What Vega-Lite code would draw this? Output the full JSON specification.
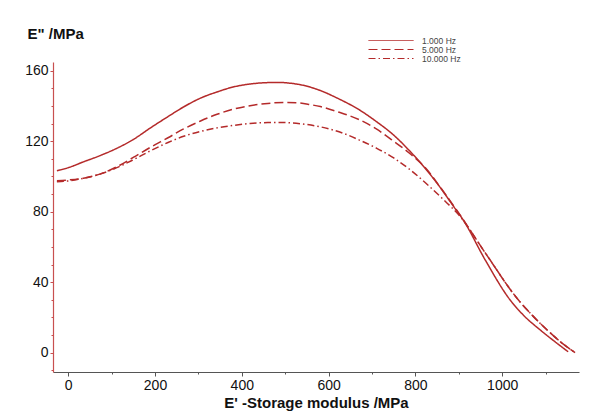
{
  "$schema": "https://vega.github.io/schema/vega-lite/v6.json",
  "autosize": "none",
  "width": 526,
  "height": 310,
  "padding": {"left": 53, "top": 62, "right": 11, "bottom": 42},
  "background": "white",
  "config": {
    "font": "Liberation Sans",
    "view": {"stroke": null}
  },
  "data": {
    "values": [
      {"series": "1.000 Hz", "E1": -26, "E2": 103.3},
      {"series": "1.000 Hz", "E1": 0, "E2": 105},
      {"series": "1.000 Hz", "E1": 35, "E2": 108.3},
      {"series": "1.000 Hz", "E1": 75, "E2": 112},
      {"series": "1.000 Hz", "E1": 112, "E2": 116},
      {"series": "1.000 Hz", "E1": 150, "E2": 121},
      {"series": "1.000 Hz", "E1": 189, "E2": 127.5},
      {"series": "1.000 Hz", "E1": 230, "E2": 134},
      {"series": "1.000 Hz", "E1": 266, "E2": 139.5},
      {"series": "1.000 Hz", "E1": 305, "E2": 144.5},
      {"series": "1.000 Hz", "E1": 343, "E2": 148},
      {"series": "1.000 Hz", "E1": 380, "E2": 150.8},
      {"series": "1.000 Hz", "E1": 419, "E2": 152.5},
      {"series": "1.000 Hz", "E1": 460, "E2": 153.3},
      {"series": "1.000 Hz", "E1": 485, "E2": 153.4},
      {"series": "1.000 Hz", "E1": 510, "E2": 153},
      {"series": "1.000 Hz", "E1": 541, "E2": 151.8},
      {"series": "1.000 Hz", "E1": 581, "E2": 148.8},
      {"series": "1.000 Hz", "E1": 620, "E2": 144.5},
      {"series": "1.000 Hz", "E1": 673, "E2": 137.5},
      {"series": "1.000 Hz", "E1": 710, "E2": 131.2},
      {"series": "1.000 Hz", "E1": 750, "E2": 123.5},
      {"series": "1.000 Hz", "E1": 785, "E2": 115},
      {"series": "1.000 Hz", "E1": 819, "E2": 105.7},
      {"series": "1.000 Hz", "E1": 855, "E2": 94.5},
      {"series": "1.000 Hz", "E1": 888, "E2": 83},
      {"series": "1.000 Hz", "E1": 911, "E2": 75},
      {"series": "1.000 Hz", "E1": 960, "E2": 53},
      {"series": "1.000 Hz", "E1": 1018, "E2": 30},
      {"series": "1.000 Hz", "E1": 1050, "E2": 21},
      {"series": "1.000 Hz", "E1": 1087, "E2": 13},
      {"series": "1.000 Hz", "E1": 1120, "E2": 6.5},
      {"series": "1.000 Hz", "E1": 1152, "E2": 0.5},
      {"series": "5.000 Hz", "E1": -26, "E2": 97.6},
      {"series": "5.000 Hz", "E1": 0, "E2": 98},
      {"series": "5.000 Hz", "E1": 35, "E2": 99},
      {"series": "5.000 Hz", "E1": 75, "E2": 101.5},
      {"series": "5.000 Hz", "E1": 112, "E2": 105.5},
      {"series": "5.000 Hz", "E1": 150, "E2": 110.8},
      {"series": "5.000 Hz", "E1": 189, "E2": 116.5},
      {"series": "5.000 Hz", "E1": 230, "E2": 122},
      {"series": "5.000 Hz", "E1": 266, "E2": 127},
      {"series": "5.000 Hz", "E1": 305, "E2": 131.5},
      {"series": "5.000 Hz", "E1": 343, "E2": 135.3},
      {"series": "5.000 Hz", "E1": 380, "E2": 138.2},
      {"series": "5.000 Hz", "E1": 419, "E2": 140.2},
      {"series": "5.000 Hz", "E1": 460, "E2": 141.5},
      {"series": "5.000 Hz", "E1": 496, "E2": 142},
      {"series": "5.000 Hz", "E1": 530, "E2": 141.8},
      {"series": "5.000 Hz", "E1": 558, "E2": 140.8},
      {"series": "5.000 Hz", "E1": 581, "E2": 139.7},
      {"series": "5.000 Hz", "E1": 620, "E2": 136.8},
      {"series": "5.000 Hz", "E1": 673, "E2": 132},
      {"series": "5.000 Hz", "E1": 710, "E2": 127},
      {"series": "5.000 Hz", "E1": 750, "E2": 120},
      {"series": "5.000 Hz", "E1": 790, "E2": 112.5},
      {"series": "5.000 Hz", "E1": 827, "E2": 103.8},
      {"series": "5.000 Hz", "E1": 860, "E2": 93},
      {"series": "5.000 Hz", "E1": 895, "E2": 81},
      {"series": "5.000 Hz", "E1": 960, "E2": 57},
      {"series": "5.000 Hz", "E1": 1037, "E2": 30},
      {"series": "5.000 Hz", "E1": 1070, "E2": 21},
      {"series": "5.000 Hz", "E1": 1103, "E2": 13},
      {"series": "5.000 Hz", "E1": 1135, "E2": 6},
      {"series": "5.000 Hz", "E1": 1168, "E2": 0},
      {"series": "10.000 Hz", "E1": -26, "E2": 97},
      {"series": "10.000 Hz", "E1": 0, "E2": 97.5},
      {"series": "10.000 Hz", "E1": 35, "E2": 99},
      {"series": "10.000 Hz", "E1": 75, "E2": 101.5},
      {"series": "10.000 Hz", "E1": 112, "E2": 105},
      {"series": "10.000 Hz", "E1": 150, "E2": 109.5},
      {"series": "10.000 Hz", "E1": 189, "E2": 114.5},
      {"series": "10.000 Hz", "E1": 230, "E2": 119.3},
      {"series": "10.000 Hz", "E1": 266, "E2": 122.8},
      {"series": "10.000 Hz", "E1": 305, "E2": 125.6},
      {"series": "10.000 Hz", "E1": 343, "E2": 127.6},
      {"series": "10.000 Hz", "E1": 380, "E2": 129},
      {"series": "10.000 Hz", "E1": 419, "E2": 130.1},
      {"series": "10.000 Hz", "E1": 460, "E2": 130.6},
      {"series": "10.000 Hz", "E1": 496, "E2": 130.6},
      {"series": "10.000 Hz", "E1": 540, "E2": 129.8},
      {"series": "10.000 Hz", "E1": 581, "E2": 128.2},
      {"series": "10.000 Hz", "E1": 634, "E2": 124.5},
      {"series": "10.000 Hz", "E1": 670, "E2": 120.8},
      {"series": "10.000 Hz", "E1": 711, "E2": 116},
      {"series": "10.000 Hz", "E1": 750, "E2": 110.5},
      {"series": "10.000 Hz", "E1": 788, "E2": 103.8},
      {"series": "10.000 Hz", "E1": 825, "E2": 96},
      {"series": "10.000 Hz", "E1": 865, "E2": 86.8},
      {"series": "10.000 Hz", "E1": 903, "E2": 77.3},
      {"series": "10.000 Hz", "E1": 960, "E2": 57},
      {"series": "10.000 Hz", "E1": 1037, "E2": 30},
      {"series": "10.000 Hz", "E1": 1070, "E2": 21},
      {"series": "10.000 Hz", "E1": 1103, "E2": 13},
      {"series": "10.000 Hz", "E1": 1135, "E2": 6},
      {"series": "10.000 Hz", "E1": 1168, "E2": 0}
    ]
  },
  "mark": {"type": "line", "color": "#b42a2a", "strokeWidth": 1.5, "interpolate": "monotone"},
  "encoding": {
    "x": {
      "field": "E1", "type": "quantitative",
      "scale": {"domain": [-35, 1177], "nice": false, "zero": false},
      "axis": {
        "title": "E' -Storage modulus /MPa",
        "titleFontSize": 15, "titleFontWeight": "bold", "titleColor": "#111",
        "titlePadding": 3,
        "format": "d",
        "values": [0, 100, 200, 300, 400, 500, 600, 700, 800, 900, 1000, 1100],
        "labelExpr": "datum.value % 200 == 0 ? datum.label : ''",
        "labelFontSize": 14, "labelColor": "#111", "labelPadding": 2,
        "domainColor": "#555", "domainWidth": 1.2,
        "tickColor": "#555",
        "tickSize": {"condition": {"test": "datum.value % 200 == 0", "value": 4}, "value": 2},
        "grid": false, "labelFlush": false, "labelOverlap": false
      }
    },
    "y": {
      "field": "E2", "type": "quantitative",
      "scale": {"domain": [-11, 165], "nice": false, "zero": false},
      "axis": {
        "title": "E\" /MPa",
        "titleAngle": 0, "titleX": -26, "titleY": -24,
        "titleAlign": "left", "titleBaseline": "alphabetic",
        "titleFontSize": 15, "titleFontWeight": "bold", "titleColor": "#111",
        "values": [-10, 0, 10, 20, 30, 40, 50, 60, 70, 80, 90, 100, 110, 120, 130, 140, 150, 160],
        "labelExpr": "datum.value % 40 == 0 ? datum.label : ''",
        "labelFontSize": 14, "labelColor": "#111", "labelPadding": 2,
        "domainColor": "#c85050", "domainWidth": 1.2,
        "tickColor": "#c85050",
        "tickSize": {"condition": {"test": "datum.value % 40 == 0", "value": 3}, "value": 2},
        "grid": false, "labelOverlap": false
      }
    },
    "strokeDash": {
      "field": "series", "type": "nominal",
      "scale": {"domain": ["1.000 Hz", "5.000 Hz", "10.000 Hz"], "range": [[1, 0], [9, 4], [7, 3, 1.5, 3]]},
      "legend": {
        "title": null, "orient": "none", "legendX": 352, "legendY": -26,
        "symbolType": "M-10.25,0H1", "symbolSize": 64, "symbolStrokeWidth": 1,
        "symbolStrokeColor": "#b42a2a", "symbolFillColor": "transparent",
        "labelFontSize": 8.5, "labelColor": "#444", "labelOffset": 8,
        "rowPadding": 0, "padding": 0
      }
    }
  }
}
